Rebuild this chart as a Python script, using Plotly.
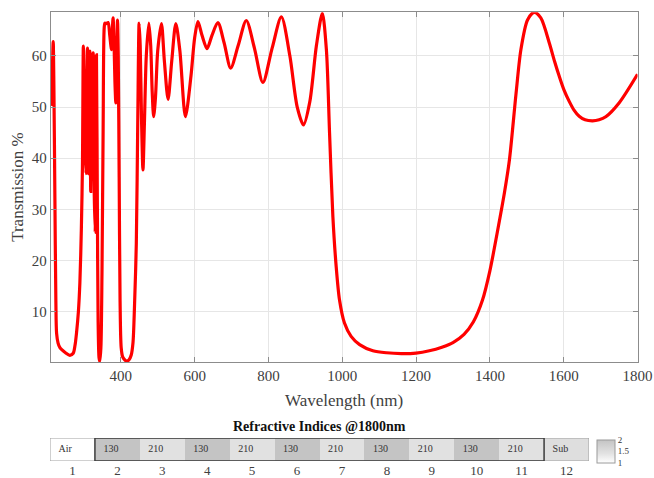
import plotly.graph_objects as go

# ---- main curve data ----
wavelength = [210, 212.4, 214.5, 216.8, 218.5, 221.4, 224, 226, 230, 235, 240, 250, 262, 271, 276, 280,
              285, 289, 293, 296, 298.5, 301, 303, 305.5, 307.5, 309.5, 311.5, 313.5, 316, 318.5,
              321.5, 325, 328, 330.5, 332.5, 334, 336.5, 338.5, 341, 343, 346, 349, 352, 355,
              357, 361, 365.6, 370, 374.8, 377, 379, 381.5, 384, 386.5, 389, 391, 393, 395.5,
              398, 401, 405, 411, 416, 422, 428, 433, 437, 442, 446, 449.6, 452.5, 456, 460,
              464, 469, 476, 481, 485, 489, 494, 500, 510, 518, 528, 538, 549, 560, 575, 590,
              600, 609, 620, 633.6, 647, 663, 680, 697.7, 718, 740, 762, 785, 810, 835, 858,
              878, 895, 912, 930, 946, 957, 965.6, 974.6, 983.6, 992.6, 1006, 1024, 1047, 1083,
              1120, 1160, 1200, 1236, 1270, 1300, 1330, 1355, 1380, 1400, 1420, 1440, 1453,
              1471, 1484, 1502, 1520, 1538, 1561, 1575, 1588, 1601, 1615, 1628, 1642, 1658,
              1678, 1696, 1714, 1750, 1800]
transmission = [53.7, 50.5, 57, 62.8, 55, 31.9, 12, 5.8, 3.9, 3.0, 2.6, 2.0, 1.5, 1.9, 3.5, 5.9,
                10, 15.6, 26, 38.3, 61.9, 52, 42, 37, 50, 61.5, 37, 50, 60.9, 33.5,
                50, 60.6, 33, 25.5, 45, 60.2, 30, 8, 1, 0.3, 3, 18, 45, 65.5,
                66.4, 66.3, 66.5, 64, 61.2, 65, 67.4, 63, 55, 50.8, 60, 67, 60, 36.4,
                12, 3, 1.2, 0.6, 0.4, 0.6, 1.5, 4, 11, 23.4, 48, 66.4, 62, 48, 37.7,
                47, 60, 66.4, 62, 53, 48.1, 52, 61, 66.3, 59, 51.5, 59, 66.3, 61, 48.1, 56,
                63.5, 66.7, 64, 61.4, 64, 66.5, 62.5, 57.6, 62, 66.9, 61.5, 54.8, 61.5, 67.6, 60,
                50, 46.5, 51, 62, 68.3, 61.2, 44.9, 28.6, 18.8, 12.3, 7.8, 5.2, 3.6, 2.4,
                2.0, 1.85, 1.95, 2.4, 3.1, 4.0, 5.6, 8, 12.3, 18, 25.5, 33.5, 39.7,
                52.7, 61.2, 67, 68.5, 67.4, 62.5, 59.0, 56, 53.3, 51.1, 49.4, 48.2, 47.5,
                47.3, 47.5, 48.1, 50.8, 56.4]

x_ticks = [400, 600, 800, 1000, 1200, 1400, 1600, 1800]
y_ticks = [10, 20, 30, 40, 50, 60]

# ---- layer strip data ----
layer_no = list(range(1, 13))
layer_labels = ["Air", "130", "210", "130", "210", "130", "210", "130", "210", "130", "210", "Sub"]
layer_index = [1.0, 2.0, 1.44, 2.0, 1.44, 2.0, 1.44, 2.0, 1.44, 2.0, 1.44, 1.5]
cbar_vals = [1, 1.5, 2]
cbar_text = ["1", "1.5", "2"]

SERIF = "Liberation Serif"
W, H = 654, 478

fig = go.Figure()

fig.add_trace(go.Scatter(
    x=wavelength, y=transmission, mode="lines",
    line=dict(color="#ff0000", width=3.2, shape="spline", smoothing=0.8),
    hoverinfo="skip", showlegend=False, xaxis="x", yaxis="y"))

fig.add_trace(go.Heatmap(
    x=layer_no, y=[0], z=[layer_index], xaxis="x2", yaxis="y2",
    colorscale=[[0, "#ffffff"], [0.4, "#e3e3e3"], [1, "#c4c4c4"]],
    zmin=1, zmax=2, hoverinfo="skip",
    colorbar=dict(
        tickvals=cbar_vals, ticktext=cbar_text, ticks="",
        tickfont=dict(family=SERIF, size=9, color="#333333"),
        thickness=18, thicknessmode="pixels", len=23, lenmode="pixels",
        x=597 / W, xanchor="left", y=1 - 451 / H, yanchor="middle",
        xpad=0, ypad=0, outlinecolor="#9a9a9a", outlinewidth=1)))

fig.add_trace(go.Scatter(
    x=[n - 0.31 for n in layer_no], y=[0] * 12, mode="text", text=layer_labels,
    textposition="middle right",
    textfont=dict(family=SERIF, size=10, color="#333333"),
    hoverinfo="skip", showlegend=False, xaxis="x2", yaxis="y2"))

axis_col = "#8c8c8c"
grid_col = "#e6e6e6"

fig.update_layout(
    width=W, height=H, margin=dict(l=0, r=0, t=0, b=0, autoexpand=False),
    paper_bgcolor="white", plot_bgcolor="white", showlegend=False,
    font=dict(family=SERIF, color="#404040"),
    xaxis=dict(domain=[50.7 / W, 637.5 / W], range=[210, 1800], tickvals=x_ticks,
               ticks="inside", ticklen=5, tickcolor=axis_col, showline=True, linecolor=axis_col,
               linewidth=1, mirror="ticks", showgrid=True, gridcolor=grid_col, zeroline=False,
               tickfont=dict(size=15, color="#404040"), anchor="y", automargin=False,
               title=dict(text="Wavelength (nm)", font=dict(size=17, color="#404040"), standoff=11)),
    yaxis=dict(domain=[1 - 362 / H, 1 - 12.3 / H], range=[0.2, 68.5], tickvals=y_ticks,
               ticks="inside", ticklen=5, tickcolor=axis_col, showline=True, linecolor=axis_col,
               linewidth=1, mirror="ticks", showgrid=True, gridcolor=grid_col, zeroline=False,
               tickfont=dict(size=15, color="#404040"), anchor="x", automargin=False,
               title=dict(text="Transmission %", font=dict(size=17, color="#404040"), standoff=3)),
    xaxis2=dict(domain=[50 / W, 589 / W], range=[0.5, 12.5], anchor="y2", tickvals=layer_no,
                ticks="", showgrid=False, zeroline=False, showline=False, automargin=False,
                tickfont=dict(size=13, color="#404040")),
    yaxis2=dict(domain=[1 - 461 / H, 1 - 438 / H], range=[-0.5, 0.5], anchor="x2", visible=False),
    shapes=[
        dict(type="rect", xref="x2", yref="y2", x0=0.5, x1=12.5, y0=-0.5, y1=0.5,
             line=dict(color="#a0a0a0", width=1)),
        dict(type="rect", xref="x2", yref="y2", x0=1.5, x1=11.5, y0=-0.5, y1=0.5,
             line=dict(color="#3c3c3c", width=1.5)),
    ],
    annotations=[
        dict(text="<b>Refractive Indices @1800nm</b>", xref="x2 domain", yref="y2 domain",
             x=0.5, y=1, xanchor="center", yanchor="bottom", yshift=2, showarrow=False,
             font=dict(family=SERIF, size=14, color="#111111")),
    ],
)

fig.write_html("out.html")
